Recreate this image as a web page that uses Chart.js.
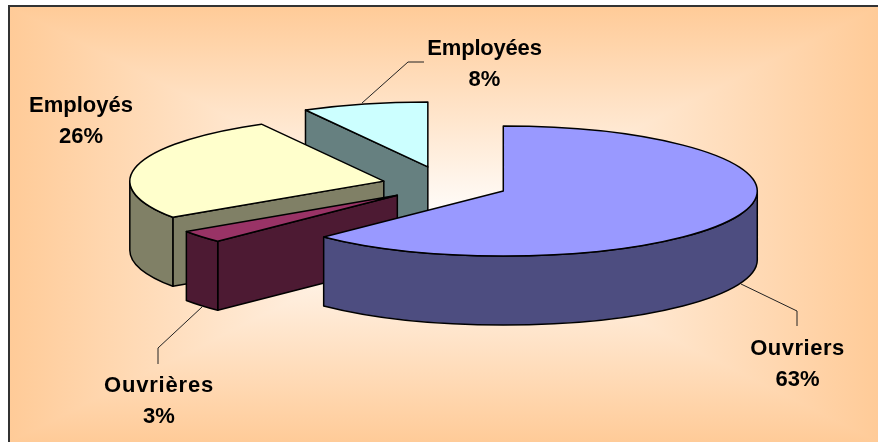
<!DOCTYPE html>
<html>
<head>
<meta charset="utf-8">
<style>html,body{margin:0;padding:0;background:#fff}canvas{display:block}</style>
<script src="https://cdn.jsdelivr.net/npm/chart.js@4"></script>
</head>
<body>
<canvas id="c" width="878" height="442"></canvas>
<script>
const categories = ['Ouvriers', 'Ouvrières', 'Employés', 'Employées'];
const shares = [62.5, 3.1, 26.4, 8];
const percentLabels = ['63%', '3%', '26%', '8%'];
const topColors = ['#9999FF', '#993366', '#FFFFCC', '#CCFFFF'];
const wallColors = ['#4D4D80', '#4D1A33', '#808066', '#668080'];
const explodes = [62, 63, 64, 73];
const labelCenters = [[797.5, 355], [159, 392], [81, 112], [484.5, 55]];
const labelSpacing = [0.5, 0.8, 0, -0.2];
const leaderLines = [
  [[741, 284], [797, 311], [797, 326]],
  [[202, 307], [158, 348], [158, 364]],
  [],
  [[362, 103], [408, 62], [424, 62]]
];

const view = { cx: 446, cy: 185, rx: 254, ry: 65, depth: 69 };
const frame = { l: 10, t: 7, r: 878, b: 442 };

const pie3d = {
  id: 'pie3d',
  beforeDraw(chart) {
    const ctx = chart.ctx, f = frame;
    const mx = (f.l + f.r) / 2, my = (f.t + f.b) / 2;
    const edge = '#FFCB98', mid = '#FFFFFF';
    ctx.save();
    const v = ctx.createLinearGradient(0, f.t, 0, f.b);
    v.addColorStop(0, edge); v.addColorStop(0.5, mid); v.addColorStop(1, edge);
    ctx.fillStyle = v;
    ctx.fillRect(f.l, f.t, f.r - f.l, f.b - f.t);
    const h = ctx.createLinearGradient(f.l, 0, f.r, 0);
    h.addColorStop(0, edge); h.addColorStop(0.5, mid); h.addColorStop(1, edge);
    ctx.fillStyle = h;
    ctx.beginPath(); ctx.moveTo(f.l, f.t); ctx.lineTo(mx, my); ctx.lineTo(f.l, f.b); ctx.closePath(); ctx.fill();
    ctx.beginPath(); ctx.moveTo(f.r, f.t); ctx.lineTo(mx, my); ctx.lineTo(f.r, f.b); ctx.closePath(); ctx.fill();
    ctx.fillStyle = '#333333';
    ctx.fillRect(f.l - 2, f.t - 2, f.r - f.l + 2, 2);
    ctx.fillRect(f.l - 2, f.t - 2, 2, f.b - f.t + 2);
    ctx.restore();
  },
  beforeDatasetDraw(chart) {
    const ctx = chart.ctx, arcs = chart.getDatasetMeta(0).data;
    const outline = () => {
      ctx.save();
      ctx.setTransform(1, 0, 0, 1, 0, 0);
      ctx.strokeStyle = '#000';
      ctx.lineWidth = 1.5;
      ctx.lineJoin = 'round';
      ctx.stroke();
      ctx.restore();
    };
    [3, 2, 1, 0].forEach(i => {
      const arc = arcs[i];
      const { x, y, startAngle: s, endAngle: e, outerRadius: R } = arc;
      const sx = view.rx / R, sy = view.ry / R, d = view.depth / sy;
      const a = (s + e) / 2;
      ctx.save();
      ctx.setTransform(sx, 0, 0, sy,
        view.cx - x * sx + explodes[i] * Math.cos(a),
        view.cy - y * sy + explodes[i] * (view.ry / view.rx) * Math.sin(a));
      ctx.fillStyle = wallColors[i];
      [[s, -Math.PI / 2], [e, Math.PI / 2]].forEach(([ang, n]) => {
        if (Math.sin(ang + n) > 1e-6) {
          ctx.beginPath();
          ctx.moveTo(x, y);
          ctx.lineTo(x + R * Math.cos(ang), y + R * Math.sin(ang));
          ctx.lineTo(x + R * Math.cos(ang), y + d + R * Math.sin(ang));
          ctx.lineTo(x, y + d);
          ctx.closePath();
          ctx.fill();
          outline();
        }
      });
      const a1 = Math.max(s, 0), a2 = Math.min(e, Math.PI);
      if (a1 < a2) {
        ctx.beginPath();
        ctx.arc(x, y, R, a1, a2);
        ctx.arc(x, y + d, R, a2, a1, true);
        ctx.closePath();
        ctx.fill();
        outline();
      }
      arc.draw(ctx);
      ctx.beginPath();
      ctx.moveTo(x, y);
      ctx.arc(x, y, R, s, e);
      ctx.closePath();
      outline();
      ctx.restore();
    });
    return false;
  },
  afterDraw(chart) {
    const ctx = chart.ctx;
    ctx.save();
    ctx.strokeStyle = '#222';
    ctx.lineWidth = 1;
    leaderLines.forEach(pts => {
      if (!pts.length) return;
      ctx.beginPath();
      pts.forEach((p, k) => k ? ctx.lineTo(p[0], p[1]) : ctx.moveTo(p[0], p[1]));
      ctx.stroke();
    });
    ctx.fillStyle = '#000';
    ctx.font = 'bold 22px "Liberation Sans", Arial, sans-serif';
    ctx.textAlign = 'center';
    ctx.textBaseline = 'alphabetic';
    categories.forEach((c, i) => {
      const [lx, ly] = labelCenters[i];
      ctx.letterSpacing = labelSpacing[i] + 'px';
      ctx.fillText(c, lx, ly);
      ctx.letterSpacing = '0px';
      ctx.fillText(percentLabels[i], lx, ly + 30.5);
    });
    ctx.restore();
  }
};

new Chart(document.getElementById('c'), {
  type: 'pie',
  data: {
    labels: categories,
    datasets: [{ data: shares, backgroundColor: topColors, borderWidth: 0 }]
  },
  options: {
    responsive: false,
    animation: false,
    events: [],
    layout: { padding: 0 },
    plugins: { legend: { display: false }, tooltip: { enabled: false } }
  },
  plugins: [pie3d]
});
</script>
</body>
</html>
